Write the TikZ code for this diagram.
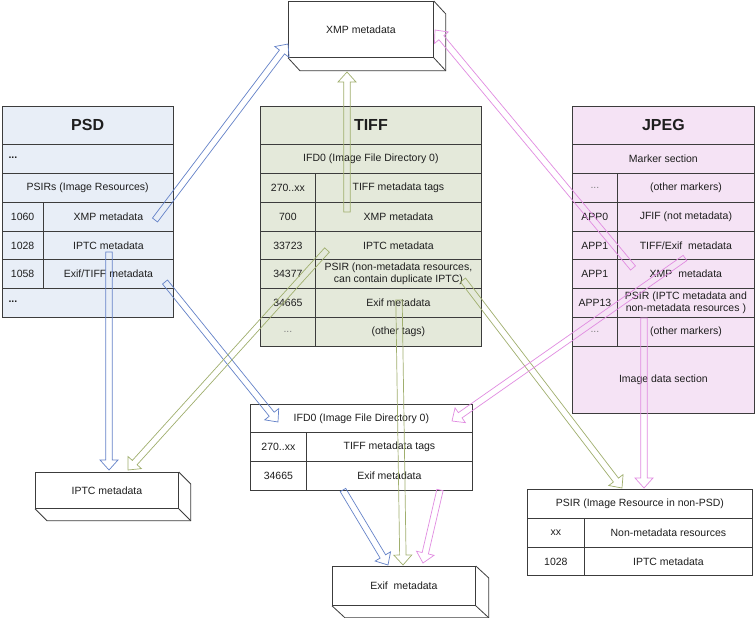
\documentclass[tikz,border=0pt]{standalone}
\usepackage{fontspec}
\setmainfont{Liberation Sans}
\usetikzlibrary{calc}
\definecolor{tablecol}{RGB}{60,60,60}
\definecolor{txt}{RGB}{30,30,30}
\definecolor{psdfill}{RGB}{232,238,247}
\definecolor{tifffill}{RGB}{228,233,218}
\definecolor{jpegfill}{RGB}{245,227,245}
\definecolor{ablue}{RGB}{100,130,200}
\definecolor{agreen}{RGB}{160,175,110}
\definecolor{apink}{RGB}{225,140,225}
\newcommand\tcell[7]{\node[#1, minimum width=#4pt-#2pt, minimum height=#5pt-#3pt] (#6) at (#2,#3) {#7};}
\tikzset{
  cellbase/.style={draw=tablecol, line width=0.8pt, inner sep=1pt, anchor=north west, align=center,
    font=\fontsize{10.5}{11.5}\selectfont, text=txt},
  psdc/.style={cellbase, fill=psdfill},
  tiffc/.style={cellbase, fill=tifffill},
  jpegc/.style={cellbase, fill=jpegfill},
  whitec/.style={cellbase, fill=white},
  headc/.style={font=\fontsize{16}{18}\selectfont\bfseries},
  dimtxt/.style={text=gray},
  box3d/.style={draw=tablecol, line width=0.8pt, fill=white, anchor=north west, inner sep=0pt,
    font=\fontsize{10.5}{11.5}\selectfont, text=txt},
  boxside/.style={draw=tablecol, line width=0.8pt},
  barrow/.style={line width=0.7pt, line join=miter, to path={
    ($(\tikztostart)!3.2pt!90:(\tikztotarget)$)
    -- ($(\tikztotarget)!10pt!(\tikztostart)!3.2pt!90:(\tikztotarget)$)
    -- ($(\tikztotarget)!10pt!(\tikztostart)!9pt!90:(\tikztotarget)$)
    -- (\tikztotarget)
    -- ($(\tikztotarget)!10pt!(\tikztostart)!9pt!-90:(\tikztotarget)$)
    -- ($(\tikztotarget)!10pt!(\tikztostart)!3.2pt!-90:(\tikztotarget)$)
    -- ($(\tikztostart)!3.2pt!-90:(\tikztotarget)$)
    -- cycle}},
  bluearrow/.style={barrow, draw=ablue},
  greenarrow/.style={barrow, draw=agreen},
  pinkarrow/.style={barrow, draw=apink}
}
\begin{document}
\begin{tikzpicture}[x=1pt,y=-1pt]
\path[use as bounding box, fill=white] (0,0) rectangle (755,618);

% ---------------- PSD ----------------
\tcell{psdc,headc}{1.5}{106}{173}{144}{psdT}{PSD}
\tcell{psdc}{1.5}{144}{173}{173}{psdD1}{}
\node[anchor=west, font=\fontsize{10.5}{11.5}\selectfont\bfseries, text=txt] (psdD1t) at (5,158) {...};
\tcell{psdc}{1.5}{173}{173}{202}{psdR}{PSIRs (Image Resources)}
\tcell{psdc}{1.5}{202}{43}{231}{psdA1}{1060}
\tcell{psdc}{43}{202}{173}{231}{psdB1}{XMP metadata}
\tcell{psdc}{1.5}{231}{43}{259}{psdA2}{1028}
\tcell{psdc}{43}{231}{173}{259}{psdB2}{IPTC metadata}
\tcell{psdc}{1.5}{259}{43}{288}{psdA3}{1058}
\tcell{psdc}{43}{259}{173}{288}{psdB3}{Exif/TIFF metadata}
\tcell{psdc}{1.5}{288}{173}{317}{psdD2}{}
\node[anchor=west, font=\fontsize{10.5}{11.5}\selectfont\bfseries, text=txt] (psdD2t) at (5,302) {...};

% ---------------- TIFF ----------------
\tcell{tiffc,headc}{260}{106}{481}{144}{tiffT}{TIFF}
\tcell{tiffc}{260}{144}{481}{173}{tiffI}{IFD0 (Image File Directory 0)}
\tcell{tiffc}{260}{173}{315}{202}{tiffA1}{270..xx}
\tcell{tiffc}{315}{173}{481}{202}{tiffB1}{TIFF metadata tags}
\tcell{tiffc}{260}{202}{315}{231}{tiffA2}{700}
\tcell{tiffc}{315}{202}{481}{231}{tiffB2}{XMP metadata}
\tcell{tiffc}{260}{231}{315}{259}{tiffA3}{33723}
\tcell{tiffc}{315}{231}{481}{259}{tiffB3}{IPTC metadata}
\tcell{tiffc}{260}{259}{315}{288}{tiffA4}{34377}
\tcell{tiffc}{315}{259}{481}{288}{tiffB4}{PSIR (non-metadata resources,\\can contain duplicate IPTC)}
\tcell{tiffc}{260}{288}{315}{317}{tiffA5}{34665}
\tcell{tiffc}{315}{288}{481}{317}{tiffB5}{Exif metadata}
\tcell{tiffc,dimtxt}{260}{317}{315}{346}{tiffA6}{...}
\tcell{tiffc}{315}{317}{481}{346}{tiffB6}{(other tags)}

% ---------------- JPEG ----------------
\tcell{jpegc,headc}{572}{106}{754}{144}{jpgT}{JPEG}
\tcell{jpegc}{572}{144}{754}{173}{jpgM}{Marker section}
\tcell{jpegc,dimtxt}{572}{173}{617}{202}{jpgA1}{...}
\tcell{jpegc}{617}{173}{754}{202}{jpgB1}{(other markers)}
\tcell{jpegc}{572}{202}{617}{231}{jpgA2}{APP0}
\tcell{jpegc}{617}{202}{754}{231}{jpgB2}{JFIF (not metadata)}
\tcell{jpegc}{572}{231}{617}{259}{jpgA3}{APP1}
\tcell{jpegc}{617}{231}{754}{259}{jpgB3}{TIFF/Exif\ \ metadata}
\tcell{jpegc}{572}{259}{617}{288}{jpgA4}{APP1}
\tcell{jpegc}{617}{259}{754}{288}{jpgB4}{XMP\ \ metadata}
\tcell{jpegc}{572}{288}{617}{317}{jpgA5}{APP13}
\tcell{jpegc}{617}{288}{754}{317}{jpgB5}{PSIR (IPTC metadata and\\non-metadata resources )}
\tcell{jpegc,dimtxt}{572}{317}{617}{346}{jpgA6}{...}
\tcell{jpegc}{617}{317}{754}{346}{jpgB6}{(other markers)}
\tcell{jpegc}{572}{346}{754}{413}{jpgI}{Image data section}

% ---------------- lower IFD0 ----------------
\tcell{whitec}{250}{404}{472}{432}{ifdT}{IFD0 (Image File Directory 0)}
\tcell{whitec}{250}{432}{306}{461}{ifdA1}{270..xx}
\tcell{whitec}{306}{432}{472}{461}{ifdB1}{TIFF metadata tags}
\tcell{whitec}{250}{461}{306}{490}{ifdA2}{34665}
\tcell{whitec}{306}{461}{472}{490}{ifdB2}{Exif metadata}

% ---------------- PSIR ----------------
\tcell{whitec}{527}{489}{752}{518}{psirT}{PSIR (Image Resource in non-PSD)}
\tcell{whitec}{527}{518}{584}{547}{psirA1}{xx}
\tcell{whitec}{584}{518}{752}{547}{psirB1}{Non-metadata resources}
\tcell{whitec}{527}{547}{584}{575}{psirA2}{1028}
\tcell{whitec}{584}{547}{752}{575}{psirB2}{IPTC metadata}

% ---------------- 3D boxes ----------------
\node[box3d, minimum width=145pt, minimum height=56pt] (xmp) at (288,1) {XMP metadata};
\draw[boxside] (xmp.north east) -- ++(12,13) |- ($(xmp.south west)+(12,13)$) -- (xmp.south west);
\draw[boxside] (xmp.south east) -- ++(12,13);

\node[box3d, minimum width=143pt, minimum height=36pt] (iptc) at (35,472) {IPTC metadata};
\draw[boxside] (iptc.north east) -- ++(12,12) |- ($(iptc.south west)+(12,12)$) -- (iptc.south west);
\draw[boxside] (iptc.south east) -- ++(12,12);

\node[box3d, minimum width=143pt, minimum height=39pt] (exif) at (332,566) {Exif\ \ metadata};
\draw[boxside] (exif.north east) -- ++(13,12) |- ($(exif.south west)+(13,12)$) -- (exif.south west);
\draw[boxside] (exif.south east) -- ++(13,12);

% ---------------- arrow end points ----------------
\coordinate (a1s) at (155,220);  \coordinate (a1t) at (288,44);
\coordinate (a2s) at (109,252);  \coordinate (a2t) at (109,470);
\coordinate (a3s) at (165,282);  \coordinate (a3t) at (278,422);
\coordinate (a4s) at (343,490);  \coordinate (a4t) at (388,565);
\coordinate (a5s) at (347,212);  \coordinate (a5t) at (347,72);
\coordinate (a6s) at (327,250);  \coordinate (a6t) at (128,470);
\coordinate (a7s) at (399,300);  \coordinate (a7t) at (403,565);
\coordinate (a8s) at (463,280);  \coordinate (a8t) at (622,488);
\coordinate (a9s) at (633,268);  \coordinate (a9t) at (435,30);
\coordinate (a10s) at (685,258); \coordinate (a10t) at (452,421);
\coordinate (a11s) at (644,318); \coordinate (a11t) at (644,488);
\coordinate (a12s) at (440,490); \coordinate (a12t) at (423,563);

% ---------------- arrows ----------------
\draw[bluearrow] (a1s) to (a1t);
\draw[bluearrow] (a2s) to (a2t);
\draw[bluearrow] (a3s) to (a3t);
\draw[bluearrow] (a4s) to (a4t);
\draw[greenarrow] (a5s) to (a5t);
\draw[greenarrow] (a6s) to (a6t);
\draw[greenarrow] (a7s) to (a7t);
\draw[greenarrow] (a8s) to (a8t);
\draw[pinkarrow] (a9s) to (a9t);
\draw[pinkarrow] (a10s) to (a10t);
\draw[pinkarrow] (a11s) to (a11t);
\draw[pinkarrow] (a12s) to (a12t);
\end{tikzpicture}
\end{document}
